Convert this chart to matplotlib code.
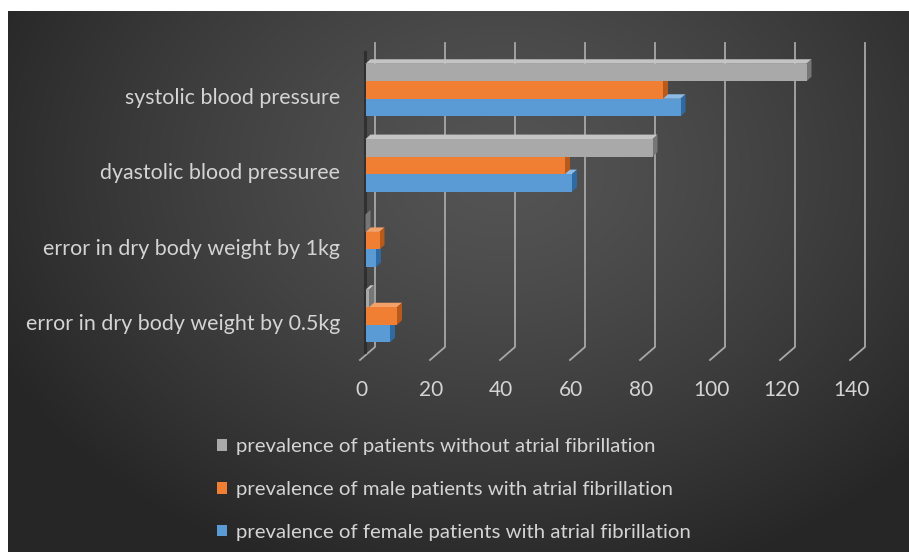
import numpy as np
import matplotlib
matplotlib.use("Agg")
import matplotlib.pyplot as plt
from matplotlib.patches import Polygon, Patch
from matplotlib.transforms import ScaledTranslation

categories = ["error in dry body weight by 0.5kg", "error in dry body weight by 1kg",
              "dyastolic blood pressuree", "systolic blood pressure"]
series_names = ["prevalence of patients without atrial fibrillation",
                "prevalence of male patients with atrial fibrillation",
                "prevalence of female patients with atrial fibrillation"]
without_af = [1, 0, 82, 126]
male_af = [9, 4, 57, 85]
female_af = [7, 3, 59, 90]
xticks = [0, 20, 40, 60, 80, 100, 120, 140]

FONT = "Lato"
TXT = "#d4d4d4"
W, H = 909, 552

fig = plt.figure(figsize=(W / 100, H / 100), dpi=100, facecolor="white")

# background panel with radial gradient
bg = fig.add_axes([8 / W, 0, (W - 8) / W, (H - 11) / H])
yy, xx = np.mgrid[11:H, 8:W]
d = np.sqrt(((xx - 500) / 560.0) ** 2 + ((yy - 170) / 430.0) ** 2)
d = np.clip(d, 0, 1)
c0, c1 = 0.33, 0.15
img = c0 + (c1 - c0) * d ** 1.3
bg.imshow(np.dstack([img, img, img]), aspect="auto", extent=[0, 1, 0, 1])
bg.set_axis_off()

# main axes: x 0..140 mapped to bar front plane, categories 0..3
px_per_unit = 3.5
px_per_cat = 75.33
cat_top_py = 90.0
left_px = 365.5
bottom_py = cat_top_py + 3.5 * px_per_cat
top_py = cat_top_py - 0.5 * px_per_cat
ax = fig.add_axes([left_px / W, (H - bottom_py) / H, 140 * px_per_unit / W,
                   (bottom_py - top_py) / H])
ax.set_xlim(0, 140)
ax.set_ylim(-0.5, 3.5)
ax.patch.set_alpha(0)
for s in ax.spines.values():
    s.set_visible(False)


def py2d(py):
    return 3 - (py - cat_top_py) / px_per_cat


# 3D-like gridlines: back vertical + diagonal floor to front
back_dx = 9.5 / px_per_unit
front_dx = -5.5 / px_per_unit
for t in xticks:
    ax.plot([t + front_dx, t + back_dx, t + back_dx],
            [py2d(360), py2d(347), py2d(43)],
            color="#a8a8a8", lw=1.3, clip_on=False, zorder=1)
# dark left wall edge
ax.plot([0 - 0.2, 0 - 0.2], [py2d(352), py2d(52)], color="#1c1c1c", lw=2.2,
        clip_on=False, zorder=1.5, alpha=0.55)

h = 17.5 / px_per_cat
ypos = np.arange(len(categories))
ddx = 5.0 / px_per_unit
ddy = 4.5 / px_per_cat

series = [
    (female_af, -h, "#5b9bd5", "#8dbbe6", "#2f6aa3", 3),
    (male_af, 0.0, "#f07f33", "#f5a26a", "#b85a1c", 4),
    (without_af, h, "#a9a9a9", "#c4c4c4", "#767676", 5),
]
for vals, off, front, top, side, z in series:
    bars = ax.barh(ypos + off, vals, height=h, color=front, zorder=z,
                   edgecolor="none")
    for b in bars:
        x0, y0, w, hh = b.get_x(), b.get_y(), b.get_width(), b.get_height()
        y1 = y0 + hh
        ax.add_patch(Polygon([[x0, y1], [x0 + w, y1], [x0 + w + ddx, y1 + ddy],
                              [x0 + ddx, y1 + ddy]], closed=True,
                             facecolor=top, edgecolor="none", zorder=z - 0.1,
                             clip_on=False))
        ax.add_patch(Polygon([[x0 + w, y0], [x0 + w + ddx, y0 + ddy],
                              [x0 + w + ddx, y1 + ddy], [x0 + w, y1]],
                             closed=True, facecolor=side, edgecolor="none",
                             zorder=z - 0.05, clip_on=False))

# ticks
ax.set_xticks(xticks)
ax.set_xticklabels([str(t) for t in xticks], fontsize=15, color=TXT,
                   family=FONT)
ax.tick_params(axis="x", length=0, pad=19)
for lab in ax.get_xticklabels():
    lab.set_transform(lab.get_transform() +
                      ScaledTranslation(-4.5 / 100, 0, fig.dpi_scale_trans))
ax.set_yticks(ypos)
ax.set_yticklabels(categories, fontsize=15.4, color=TXT, family=FONT)
ax.tick_params(axis="y", length=0, pad=18.4)
for lab in ax.get_yticklabels():
    lab.set_transform(lab.get_transform() +
                      ScaledTranslation(0, -6 / 100, fig.dpi_scale_trans))

handles = [Patch(facecolor=c, edgecolor="none") for c in
           ["#a9a9a9", "#f07f33", "#5b9bd5"]]
leg = fig.legend(handles, series_names, loc="upper left",
                 bbox_to_anchor=(217 / W, (H - 438) / H), frameon=False,
                 prop={"family": FONT, "size": 14.7}, labelcolor=TXT,
                 handlelength=0.5, handleheight=0.5, handletextpad=0.45,
                 labelspacing=1.27, borderpad=0, borderaxespad=0)

fig.savefig("out.png", dpi=100, facecolor="white")
